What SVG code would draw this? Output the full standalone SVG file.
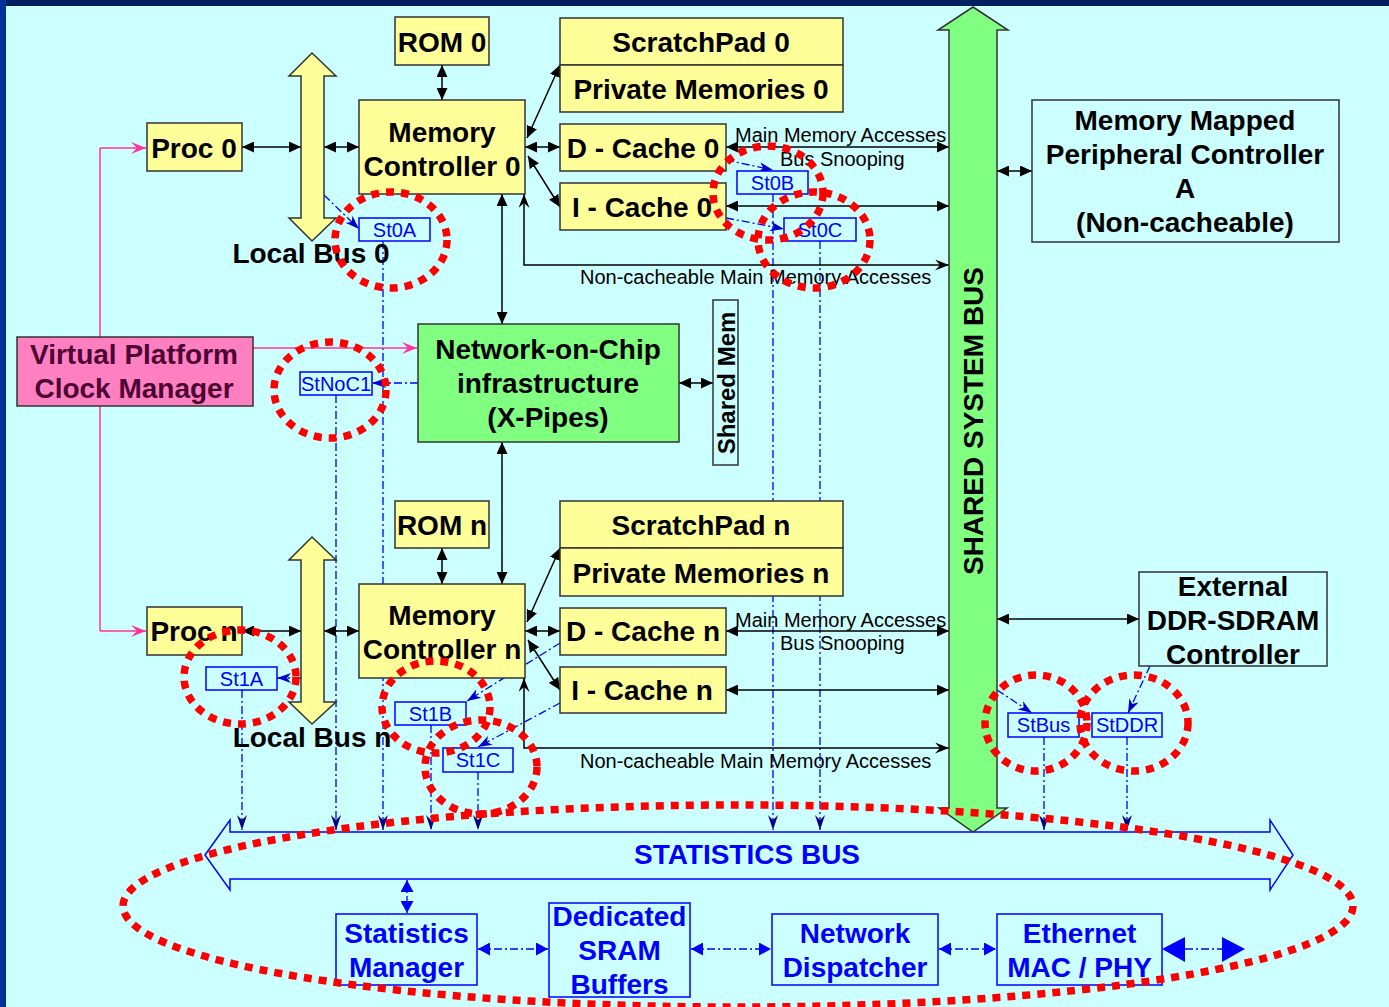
<svg xmlns="http://www.w3.org/2000/svg" width="1389" height="1007" viewBox="0 0 1389 1007">
  <style>
    .bg { fill: #CCFFFF; }
    .y { fill: #FFFF99; stroke: #333333; stroke-width: 1.5; }
    .g { fill: #80FF80; stroke: #333333; stroke-width: 1.5; }
    .c { fill: #CCFFFF; stroke: #333333; stroke-width: 1.5; }
    .pk { fill: #FF80C0; stroke: #333333; stroke-width: 1.5; }
    .sb { fill: #CCFFFF; stroke: #0000FF; stroke-width: 1.5; }
    .t { font-family: "Liberation Sans", Arial, sans-serif; font-weight: bold; font-size: 28px; text-anchor: middle; fill: #000000; }
    .tb { fill: #0000FF; }
    .tp { fill: #4D0033; }
    .s { font-family: "Liberation Sans", Arial, sans-serif; font-size: 20px; text-anchor: middle; fill: #0000FF; }
    .lbl { font-family: "Liberation Sans", Arial, sans-serif; font-size: 20px; fill: #000000; }
    .k { fill: none; stroke: #000000; stroke-width: 1.5; }
    .kk { marker-start: url(#ah); marker-end: url(#ah); }
    .dd { fill: none; stroke: #0000FF; stroke-width: 1.3; stroke-dasharray: 8 3 2 3; }
    .pl { fill: none; stroke: #FF3399; stroke-width: 1.5; }
    .red { fill: none; stroke: #FF0000; stroke-width: 7.5; stroke-dasharray: 8 7; }
  </style>
  <defs>
    <marker id="ah" markerUnits="userSpaceOnUse" markerWidth="13" markerHeight="11" refX="12" refY="5.5" orient="auto-start-reverse">
      <path d="M0,0 L12,5.5 L0,11 z" fill="#000000"/>
    </marker>
    <marker id="st" markerUnits="userSpaceOnUse" markerWidth="15" markerHeight="11" refX="14" refY="5.5" orient="auto-start-reverse">
      <path d="M0,0 L14,5.5 L0,11 L5,5.5 z" fill="#000000"/>
    </marker>
    <marker id="bs" markerUnits="userSpaceOnUse" markerWidth="15" markerHeight="10" refX="14" refY="5" orient="auto-start-reverse">
      <path d="M0,0 L14,5 L0,10 L4,5 z" fill="#0000CC"/>
    </marker>
    <marker id="bv" markerUnits="userSpaceOnUse" markerWidth="10" markerHeight="16" refX="5" refY="15" orient="0">
      <path d="M0,0 L5,15 L10,0 L5,5 z" fill="#000080"/>
    </marker>
    <marker id="bt" markerUnits="userSpaceOnUse" markerWidth="13" markerHeight="13" refX="12" refY="6.5" orient="auto-start-reverse">
      <path d="M0,0 L12,6.5 L0,13 z" fill="#0000FF"/>
    </marker>
    <marker id="pa" markerUnits="userSpaceOnUse" markerWidth="16" markerHeight="12" refX="15" refY="6" orient="auto">
      <path d="M0,0 L15,6 L0,12 L6,6 z" fill="#FF3399"/>
    </marker>
  </defs>

  <!-- page background and frame -->
  <rect class="bg" x="0" y="0" width="1389" height="1007"/>
  <rect x="0" y="0" width="1389" height="6" fill="#001F5F"/>
  <rect x="0" y="0" width="6" height="1007" fill="#003399"/>

  <!-- connectors -->
  <g id="connectors">
    <!-- statistics taps down to the statistics bus -->
    <g class="dd">
      <path d="M383,241 V830" marker-end="url(#bv)"/>
      <path d="M336,395 V830" marker-end="url(#bv)"/>
      <path d="M773,194 V830" marker-end="url(#bv)"/>
      <path d="M820,241 V830" marker-end="url(#bv)"/>
      <path d="M242,690 V830" marker-end="url(#bv)"/>
      <path d="M431,725 V830" marker-end="url(#bv)"/>
      <path d="M478,772 V830" marker-end="url(#bv)"/>
      <path d="M1044,737 V830" marker-end="url(#bv)"/>
      <path d="M1127,737 V830" marker-end="url(#bv)"/>
      <!-- probes into the monitors -->
      <path d="M324,195 L359,229" marker-end="url(#bs)"/>
      <path d="M726,160 L773,170" marker-end="url(#bs)"/>
      <path d="M726,218 L784,229" marker-end="url(#bs)"/>
      <path d="M418,383 L372,383" marker-end="url(#bs)"/>
      <path d="M301,678 L277,678" marker-end="url(#bs)"/>
      <path d="M560,643 L467,701" marker-end="url(#bs)"/>
      <path d="M560,703 L478,747" marker-end="url(#bs)"/>
      <path d="M997,690 L1032,713" marker-end="url(#bs)"/>
      <path d="M1150,666 L1128,713" marker-end="url(#bs)"/>
      <!-- statistics back-end chain -->
      <path d="M407,880 V913" marker-start="url(#bt)" marker-end="url(#bt)"/>
      <path d="M478,949 H548" marker-start="url(#bt)" marker-end="url(#bt)"/>
      <path d="M691,949 H771" marker-start="url(#bt)" marker-end="url(#bt)"/>
      <path d="M939,949 H996" marker-start="url(#bt)" marker-end="url(#bt)"/>
      <path d="M1185,949 H1222"/>
    </g>
    <path d="M1162,949 L1185,937 L1185,962 z" fill="#0000FF"/>
    <path d="M1245,949 L1222,937 L1222,962 z" fill="#0000FF"/>

    <!-- clock distribution -->
    <g class="pl">
      <path d="M100,148 V631"/>
      <path d="M100,148 H146" marker-end="url(#pa)"/>
      <path d="M100,631 H146" marker-end="url(#pa)"/>
      <path d="M253,348 H417" marker-end="url(#pa)"/>
    </g>

    <!-- data paths, tile 0 -->
    <g class="k kk">
      <path d="M242,147 H301"/>
      <path d="M324,147 H359"/>
      <path d="M442,65 V100"/>
      <path d="M527,138 L560,65"/>
      <path d="M525,147 H560"/>
      <path d="M528,156 L560,207"/>
      <path d="M502,194 V324"/>
      <path d="M726,147 H949"/>
      <path d="M726,206 H949"/>
      <path d="M997,171 H1032"/>
      <path d="M679,383 H713"/>
    </g>
    <path class="k" d="M524,194 V265 H949" marker-start="url(#st)" marker-end="url(#st)"/>

    <!-- data paths, tile n -->
    <g class="k kk">
      <path d="M502,442 V584"/>
      <path d="M442,548 V584"/>
      <path d="M242,631 H301"/>
      <path d="M324,631 H359"/>
      <path d="M527,622 L560,548"/>
      <path d="M525,631 H560"/>
      <path d="M528,640 L560,690"/>
      <path d="M726,631 H949"/>
      <path d="M726,690 H949"/>
      <path d="M997,619 H1139"/>
    </g>
    <path class="k" d="M524,678 V748 H949" marker-start="url(#st)" marker-end="url(#st)"/>

    <!-- path labels -->
    <text class="lbl" x="735" y="142">Main Memory Accesses</text>
    <text class="lbl" x="780" y="166">Bus Snooping</text>
    <text class="lbl" x="580" y="284">Non-cacheable Main Memory Accesses</text>
    <text class="lbl" x="735" y="627">Main Memory Accesses</text>
    <text class="lbl" x="780" y="650">Bus Snooping</text>
    <text class="lbl" x="580" y="768">Non-cacheable Main Memory Accesses</text>
  </g>

  <!-- statistics bus -->
  <g id="statistics-bus">
    <path class="sb" d="M205,855 L230,820 V832 H1270 V820 L1293,855 L1270,890 V879 H230 V890 z"/>
    <text class="t tb" x="747" y="864">STATISTICS BUS</text>
  </g>

  <!-- shared system bus -->
  <g id="shared-system-bus">
    <path class="g" d="M973,7 L1008,30 H997 V808 H1007 L973,832 L939,808 H949 V30 H938 z"/>
    <text class="t" x="983" y="421" transform="rotate(-90 983 421)">SHARED SYSTEM BUS</text>
  </g>

  <!-- tile 0 -->
  <g id="rom-0"><rect class="y" x="395" y="17" width="94" height="48"/><text class="t" x="442" y="52">ROM 0</text></g>
  <g id="scratchpad-0"><rect class="y" x="560" y="18" width="283" height="47"/><text class="t" x="701" y="52">ScratchPad 0</text></g>
  <g id="private-memories-0"><rect class="y" x="560" y="65" width="283" height="47"/><text class="t" x="701" y="99">Private Memories 0</text></g>
  <g id="proc-0"><rect class="y" x="147" y="123" width="95" height="48"/><text class="t" x="194" y="158">Proc 0</text></g>
  <g id="local-bus-0">
    <path class="y" d="M312,53 L336,76 H324 V218 H336 L312,241 L289,218 H301 V76 H289 z"/>
    <text class="t" x="311" y="263">Local Bus 0</text>
  </g>
  <g id="memory-controller-0"><rect class="y" x="359" y="100" width="166" height="94"/><text class="t" x="442" y="142">Memory</text><text class="t" x="442" y="176">Controller 0</text></g>
  <g id="d-cache-0"><rect class="y" x="560" y="124" width="166" height="47"/><text class="t" x="643" y="158">D - Cache 0</text></g>
  <g id="i-cache-0"><rect class="y" x="560" y="183" width="166" height="47"/><text class="t" x="642" y="217">I - Cache 0</text></g>

  <!-- interconnect and shared parts -->
  <g id="noc"><rect class="g" x="418" y="324" width="261" height="118"/><text class="t" x="548" y="359">Network-on-Chip</text><text class="t" x="548" y="393">infrastructure</text><text class="t" x="548" y="427">(X-Pipes)</text></g>
  <g id="shared-mem"><rect class="c" x="713" y="300" width="25" height="165"/><text class="t" x="734.5" y="383" style="font-size:24px" transform="rotate(-90 734.5 383)">Shared Mem</text></g>
  <g id="clock-manager"><rect class="pk" x="17" y="337" width="236" height="69"/><text class="t tp" x="134" y="364">Virtual Platform</text><text class="t tp" x="134" y="398">Clock Manager</text></g>
  <g id="peripheral-controller"><rect class="c" x="1032" y="100" width="307" height="142"/><text class="t" x="1185" y="130">Memory Mapped</text><text class="t" x="1185" y="164">Peripheral Controller</text><text class="t" x="1185" y="198">A</text><text class="t" x="1185" y="232">(Non-cacheable)</text></g>
  <g id="ddr-controller"><rect class="c" x="1139" y="572" width="188" height="94"/><text class="t" x="1233" y="596">External</text><text class="t" x="1233" y="630">DDR-SDRAM</text><text class="t" x="1233" y="664">Controller</text></g>

  <!-- tile n -->
  <g id="rom-n"><rect class="y" x="395" y="501" width="94" height="47"/><text class="t" x="442" y="535">ROM n</text></g>
  <g id="scratchpad-n"><rect class="y" x="560" y="501" width="283" height="47"/><text class="t" x="701" y="535">ScratchPad n</text></g>
  <g id="private-memories-n"><rect class="y" x="560" y="548" width="283" height="48"/><text class="t" x="701" y="583">Private Memories n</text></g>
  <g id="proc-n"><rect class="y" x="147" y="607" width="95" height="48"/><text class="t" x="194" y="641">Proc n</text></g>
  <g id="local-bus-n">
    <path class="y" d="M312,537 L336,560 H324 V702 H336 L312,724 L289,702 H301 V560 H289 z"/>
    <text class="t" x="312" y="747">Local Bus n</text>
  </g>
  <g id="memory-controller-n"><rect class="y" x="359" y="584" width="166" height="94"/><text class="t" x="442" y="625">Memory</text><text class="t" x="442" y="659">Controller n</text></g>
  <g id="d-cache-n"><rect class="y" x="560" y="608" width="166" height="47"/><text class="t" x="643" y="641">D - Cache n</text></g>
  <g id="i-cache-n"><rect class="y" x="560" y="667" width="166" height="46"/><text class="t" x="642" y="700">I - Cache n</text></g>

  <!-- statistics monitors -->
  <g id="st0a"><rect class="sb" x="359" y="218" width="71" height="23"/><text class="s" x="394.5" y="237">St0A</text></g>
  <g id="st0b"><rect class="sb" x="737" y="171" width="71" height="23"/><text class="s" x="772.5" y="190">St0B</text></g>
  <g id="st0c"><rect class="sb" x="784" y="218" width="72" height="23"/><text class="s" x="820" y="237">St0C</text></g>
  <g id="stnoc1"><rect class="sb" x="300" y="372" width="72" height="23"/><text class="s" x="336" y="391">StNoC1</text></g>
  <g id="st1a"><rect class="sb" x="206" y="667" width="71" height="23"/><text class="s" x="241.5" y="686">St1A</text></g>
  <g id="st1b"><rect class="sb" x="395" y="702" width="71" height="23"/><text class="s" x="430.5" y="721">St1B</text></g>
  <g id="st1c"><rect class="sb" x="443" y="748" width="70" height="24"/><text class="s" x="478" y="767">St1C</text></g>
  <g id="stbus"><rect class="sb" x="1008" y="713" width="71" height="24"/><text class="s" x="1043.5" y="732">StBus</text></g>
  <g id="stddr"><rect class="sb" x="1092" y="713" width="70" height="24"/><text class="s" x="1127" y="732">StDDR</text></g>

  <!-- statistics back-end -->
  <g id="statistics-manager"><rect class="sb" x="336" y="914" width="141" height="71"/><text class="t tb" x="406.5" y="943">Statistics</text><text class="t tb" x="406.5" y="977">Manager</text></g>
  <g id="sram-buffers"><rect class="sb" x="549" y="903" width="141" height="94"/><text class="t tb" x="619.5" y="926">Dedicated</text><text class="t tb" x="619.5" y="960">SRAM</text><text class="t tb" x="619.5" y="994">Buffers</text></g>
  <g id="network-dispatcher"><rect class="sb" x="772" y="914" width="166" height="71"/><text class="t tb" x="855" y="943">Network</text><text class="t tb" x="855" y="977">Dispatcher</text></g>
  <g id="ethernet-mac"><rect class="sb" x="997" y="914" width="165" height="71"/><text class="t tb" x="1079.5" y="943">Ethernet</text><text class="t tb" x="1079.5" y="977">MAC / PHY</text></g>

  <!-- highlight rings -->
  <g id="highlights">
    <ellipse class="red" cx="391" cy="240" rx="56" ry="48"/>
    <ellipse class="red" cx="768" cy="193" rx="55" ry="47"/>
    <ellipse class="red" cx="814" cy="240" rx="56" ry="48"/>
    <ellipse class="red" cx="330" cy="390" rx="56" ry="48"/>
    <ellipse class="red" cx="240" cy="677" rx="56" ry="47"/>
    <ellipse class="red" cx="436" cy="707" rx="54" ry="46"/>
    <ellipse class="red" cx="481" cy="767" rx="56" ry="47"/>
    <ellipse class="red" cx="1036" cy="723" rx="51" ry="48"/>
    <ellipse class="red" cx="1134" cy="723" rx="54" ry="48"/>
    <ellipse class="red" cx="738" cy="906" rx="615" ry="101"/>
  </g>
</svg>
